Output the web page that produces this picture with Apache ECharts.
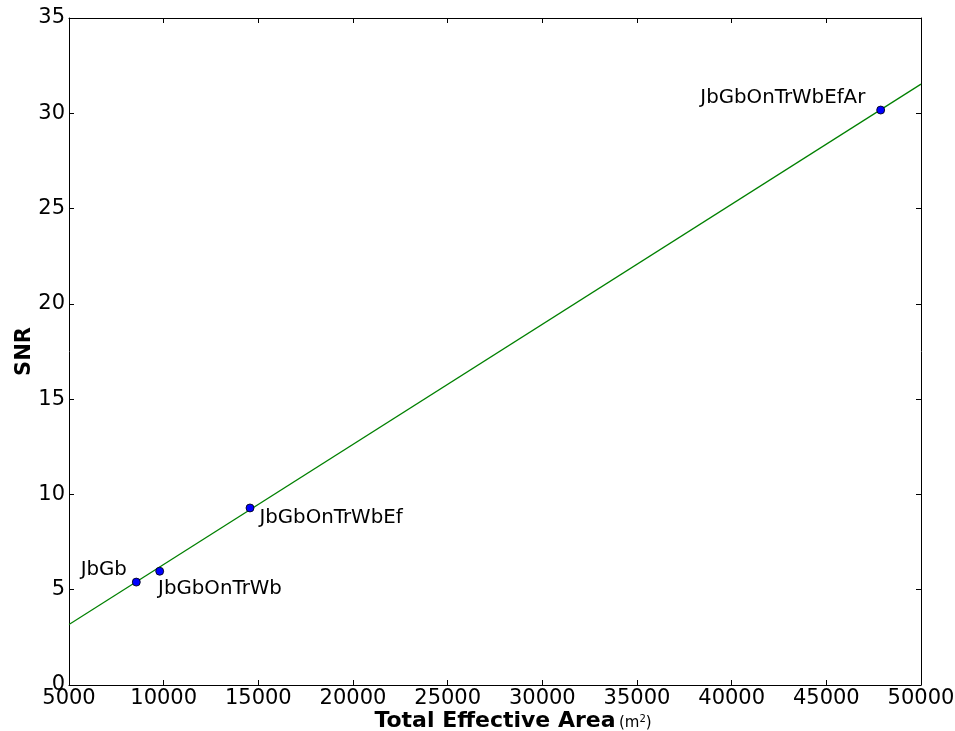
<!DOCTYPE html>
<html>
<head>
<meta charset="utf-8">
<script src="https://cdn.jsdelivr.net/npm/echarts@6/dist/echarts.min.js"></script>
<style>html,body{margin:0;padding:0;background:#fff}#c{width:955px;height:731px}</style>
</head>
<body>
<div id="c"></div>
<script>
const names = ['JbGb', 'JbGbOnTrWb', 'JbGbOnTrWbEf', 'JbGbOnTrWbEfAr'];
const areas = [8555, 9790, 14560, 47870];
const snr = [5.40, 5.97, 9.29, 30.17];
const fitX = [5000, 50000];
const fitY = [3.18, 31.53];

const FONT = 'DejaVu Sans';
const labelPlacement = [
  {position: 'left', offset: [0, -12]},
  {position: 'right', offset: [-11, 18]},
  {position: 'right', offset: [0, 10]},
  {position: 'left', offset: [-6, -12]}
];

const chart = echarts.init(document.getElementById('c'), null, {renderer: 'canvas'});
const axisCommon = {
  axisLine: {show: true, onZero: false, lineStyle: {color: '#000', width: 1}},
  axisTick: {show: true, inside: true, length: 5, lineStyle: {color: '#000', width: 1}},
  splitLine: {show: false}
};
chart.setOption({
  animation: false,
  backgroundColor: '#fff',
  grid: {left: 69, right: 34, top: 18, bottom: 46, show: false, containLabel: false, outerBoundsMode: 'none'},
  xAxis: [
    Object.assign({}, axisCommon, {
      type: 'value', min: 5000, max: 50000, interval: 5000,
      axisLabel: {color: '#000', fontFamily: FONT, fontSize: 21, margin: 3, formatter: v => String(v)},
      name: '{b|Total Effective Area} {s|(m}{sup|2}{s|)}',
      nameLocation: 'middle', nameGap: 25, nameMoveOverlap: false,
      nameTextStyle: {
        padding: [0, 0, 0, 36],
        rich: {
          b: {fontFamily: FONT, fontWeight: 'bold', fontSize: 22, color: '#000'},
          s: {fontFamily: FONT, fontSize: 15, color: '#000', verticalAlign: 'bottom', padding: [0, 0, 1, 0]},
          sup: {fontFamily: FONT, fontSize: 10, color: '#000', verticalAlign: 'bottom', padding: [0, 0, 8, 0]}
        }
      }
    }),
    Object.assign({}, axisCommon, {
      type: 'value', min: 5000, max: 50000, interval: 5000, position: 'top',
      axisLabel: {show: false}
    })
  ],
  yAxis: [
    Object.assign({}, axisCommon, {
      type: 'value', min: 0, max: 35, interval: 5,
      axisLabel: {color: '#000', fontFamily: FONT, fontSize: 21, margin: 4},
      name: 'SNR', nameLocation: 'middle', nameGap: 34, nameMoveOverlap: false,
      nameTextStyle: {fontFamily: FONT, fontWeight: 'bold', fontSize: 21, color: '#000'}
    }),
    Object.assign({}, axisCommon, {
      type: 'value', min: 0, max: 35, interval: 5, position: 'right',
      axisLabel: {show: false}
    })
  ],
  series: [
    {
      type: 'line',
      data: fitX.map((x, i) => [x, fitY[i]]),
      showSymbol: false,
      lineStyle: {color: '#008000', width: 1.2},
      z: 2
    },
    {
      type: 'scatter',
      symbolSize: 8,
      itemStyle: {color: '#0000ff', borderColor: '#000', borderWidth: 0.8, opacity: 1},
      label: {color: '#000', opacity: 1},
      data: areas.map((x, i) => ({
        value: [x, snr[i]],
        name: names[i],
        label: Object.assign({
          show: true, formatter: names[i], distance: 5,
          color: '#000', fontFamily: FONT, fontSize: 19.8
        }, labelPlacement[i])
      })),
      z: 3
    }
  ]
});
</script>
</body>
</html>
